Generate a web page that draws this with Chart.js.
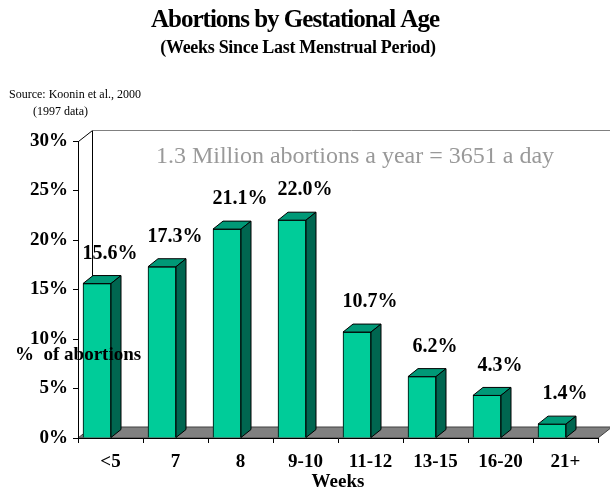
<!DOCTYPE html>
<html>
<head>
<meta charset="utf-8">
<title>Abortions by Gestational Age</title>
<script src="https://cdn.jsdelivr.net/npm/chart.js@4/dist/chart.umd.min.js"></script>
<style>
  html, body { margin: 0; padding: 0; background: #fff; }
  #wrap { width: 610px; height: 491px; position: relative; }
</style>
</head>
<body>
<div id="wrap"><canvas id="gestChart"></canvas></div>
<script>
/* ===================== DATA ===================== */
const weekLabels = ['<5', '7', '8', '9-10', '11-12', '13-15', '16-20', '21+'];
const pctAbortions = [15.6, 17.3, 21.1, 22.0, 10.7, 6.2, 4.3, 1.4];
const yTicks = [0, 5, 10, 15, 20, 25, 30];

/* ===================== STYLE ===================== */
const SERIF = "'Liberation Serif', 'Times New Roman', serif";
const WALL = { dx: 14, dy: 11 };      // back wall / floor depth
const BOX = { dx: 10, dy: 8 };        // bar depth
const FRONT = '#00CC99', TOP = '#009977', SIDE = '#006650';

/* ===================== 3D PLUGIN ===================== */
const chart3d = {
  id: 'chart3d',
  beforeDraw(chart) {
    const { ctx, chartArea: a } = chart;
    ctx.save();
    ctx.fillStyle = '#fff';
    ctx.fillRect(0, 0, chart.width, chart.height);

    // back wall
    ctx.lineWidth = 1;
    ctx.strokeStyle = '#000';
    ctx.beginPath();
    ctx.moveTo(a.left + 0.5, a.top + 0.5);
    ctx.lineTo(a.left + WALL.dx + 0.5, a.top - WALL.dy + 0.5);
    ctx.lineTo(a.left + WALL.dx + 0.5, a.bottom - WALL.dy);
    ctx.stroke();
    ctx.strokeStyle = '#808080';
    ctx.beginPath();
    ctx.moveTo(a.left + WALL.dx + 0.5, a.top - WALL.dy + 0.5);
    ctx.lineTo(chart.width, a.top - WALL.dy + 0.5);
    ctx.stroke();

    // floor
    ctx.fillStyle = '#808080';
    ctx.strokeStyle = '#404040';
    ctx.beginPath();
    ctx.moveTo(a.left, a.bottom);
    ctx.lineTo(a.right, a.bottom);
    ctx.lineTo(a.right + WALL.dx, a.bottom - WALL.dy);
    ctx.lineTo(a.left + WALL.dx, a.bottom - WALL.dy);
    ctx.closePath();
    ctx.fill();
    ctx.stroke();
    ctx.restore();
  },
  afterDatasetsDraw(chart) {
    const { ctx } = chart;
    const meta = chart.getDatasetMeta(0);
    ctx.save();
    ctx.lineWidth = 1;
    ctx.strokeStyle = '#000';
    meta.data.forEach((bar, i) => {
      const { x, y, base, width } = bar.getProps(['x', 'y', 'base', 'width'], true);
      const l = x - width / 2, r = x + width / 2;

      ctx.fillStyle = TOP;
      ctx.beginPath();
      ctx.moveTo(l, y);
      ctx.lineTo(l + BOX.dx, y - BOX.dy);
      ctx.lineTo(r + BOX.dx, y - BOX.dy);
      ctx.lineTo(r, y);
      ctx.closePath();
      ctx.fill();
      ctx.stroke();

      ctx.fillStyle = SIDE;
      ctx.beginPath();
      ctx.moveTo(r, y);
      ctx.lineTo(r + BOX.dx, y - BOX.dy);
      ctx.lineTo(r + BOX.dx, base - BOX.dy);
      ctx.lineTo(r, base);
      ctx.closePath();
      ctx.fill();
      ctx.stroke();

      // value label
      ctx.fillStyle = '#000';
      ctx.font = 'bold 20px ' + SERIF;
      ctx.textAlign = 'center';
      ctx.textBaseline = 'middle';
      ctx.fillText(pctAbortions[i].toFixed(1) + '%', x + 13, y - 30);
    });

    // y axis title, written across the first bar
    ctx.font = 'bold 19px ' + SERIF;
    ctx.textAlign = 'left';
    ctx.fillText('%  of abortions', 15, 355);
    ctx.restore();
  },
  afterDraw(chart) {
    const { ctx } = chart;
    ctx.save();
    ctx.fillStyle = '#000';
    ctx.textAlign = 'center';
    ctx.textBaseline = 'alphabetic';
    ctx.letterSpacing = '-1px';
    ctx.font = 'bold 25px ' + SERIF;
    ctx.fillText('Abortions by Gestational Age', 295, 27);
    ctx.letterSpacing = '-0.3px';
    ctx.font = 'bold 18px ' + SERIF;
    ctx.fillText('(Weeks Since Last Menstrual Period)', 298, 53);

    ctx.textAlign = 'left';
    ctx.letterSpacing = '0px';
    ctx.font = '12px ' + SERIF;
    ctx.fillText('Source: Koonin et al., 2000', 9, 98);
    ctx.fillText('(1997 data)', 33, 115);

    ctx.textAlign = 'center';
    ctx.textBaseline = 'middle';
    ctx.fillStyle = '#999999';
    ctx.font = '24px ' + SERIF;
    ctx.fillText('1.3 Million abortions a year = 3651 a day', 355, 157);
    ctx.restore();
  }
};

/* ===================== CHART ===================== */
document.addEventListener('DOMContentLoaded', () => {
  const ctx = document.getElementById('gestChart');
  new Chart(ctx.getContext('2d'), {
    type: 'bar',
    data: {
      labels: weekLabels,
      datasets: [{
        label: '% of abortions',
        xAxisID: 'xb',
        data: pctAbortions.map((v, i) => ({ x: i, y: v })),
        backgroundColor: FRONT,
        borderColor: '#000',
        borderWidth: 1,
        barThickness: 28
      }]
    },
    options: {
      responsive: true,
      maintainAspectRatio: false,
      animation: false,
      layout: { padding: { top: 141, right: 12, bottom: 0, left: 0 } },
      plugins: {
        legend: { display: false },
        tooltip: { enabled: false }
      },
      scales: {
        x: {
          type: 'category',
          offset: true,
          grid: { offset: true, drawOnChartArea: false, tickLength: 5, color: '#000' },
          border: { color: '#000' },
          ticks: {
            color: '#000',
            font: { family: SERIF, size: 19, weight: 'bold' },
            padding: 8,
            maxRotation: 0,
            autoSkip: false
          },
          title: {
            display: true,
            text: 'Weeks',
            color: '#000',
            font: { family: SERIF, size: 19, weight: 'bold', lineHeight: 0.9 },
            padding: { top: 0, bottom: 0 }
          },
          afterFit: (scale) => { scale.height = 53; }
        },
        // bars sit a little left of the category centres (3D offset)
        xb: {
          type: 'linear',
          display: false,
          offset: false,
          min: -19 / 65,
          max: 8 - 19 / 65
        },
        y: {
          min: yTicks[0],
          max: yTicks[yTicks.length - 1],
          grid: { drawOnChartArea: false, tickLength: 5, color: '#000' },
          border: { color: '#000' },
          ticks: {
            stepSize: yTicks[1] - yTicks[0],
            color: '#000',
            padding: 5,
            font: { family: SERIF, size: 19, weight: 'bold' },
            callback: (v) => v + '%'
          },
          afterFit: (scale) => { scale.width = 78; }
        }
      }
    },
    plugins: [chart3d]
  });
});
</script>
</body>
</html>
